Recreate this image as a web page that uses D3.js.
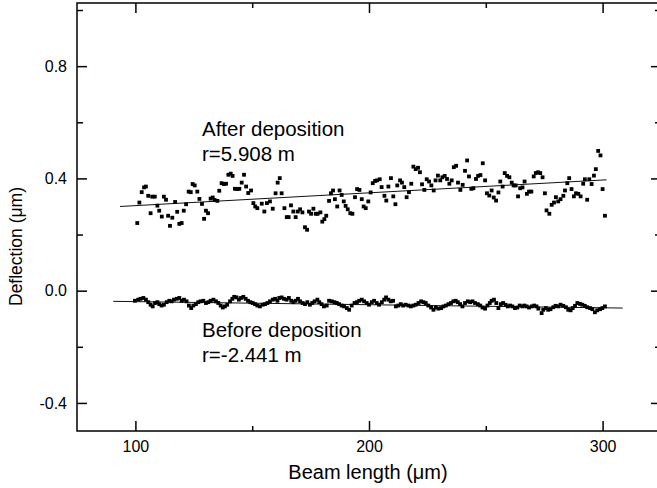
<!DOCTYPE html>
<html>
<head>
<meta charset="utf-8">
<script src="https://cdn.jsdelivr.net/npm/d3@7"></script>
<style>
  body { margin: 0; background: #fff; }
  svg { display: block; font-family: "Liberation Sans", Arial, Helvetica, sans-serif; }
</style>
</head>
<body>
<svg id="chart" width="657" height="488"></svg>
<script>
// beam deflection: [beam length (um), deflection (um)]
const afterDeposition = [
  [100.8,0.241],[101.7,0.314],[102.7,0.351],[103.7,0.368],[104.5,0.371],[105.5,0.338],[106.5,0.276],[107.2,0.335],
  [108.3,0.335],[109.4,0.303],[110.2,0.285],[111.3,0.264],[112.2,0.335],[113.1,0.324],[114.0,0.267],[114.8,0.231],
  [115.8,0.260],[117.0,0.316],[117.9,0.281],[118.8,0.238],[119.8,0.241],[120.7,0.285],[121.7,0.308],[122.8,0.353],
  [123.7,0.351],[124.5,0.380],[125.4,0.375],[126.5,0.353],[127.4,0.327],[128.5,0.309],[129.4,0.256],[130.2,0.285],
  [131.1,0.276],[132.2,0.328],[133.1,0.332],[133.9,0.323],[135.1,0.320],[135.9,0.356],[136.9,0.383],[137.9,0.380],
  [138.8,0.381],[139.8,0.413],[140.8,0.417],[141.6,0.409],[142.6,0.363],[143.6,0.362],[144.5,0.363],[145.5,0.385],
  [146.5,0.413],[147.4,0.371],[148.3,0.348],[149.5,0.357],[150.5,0.312],[151.3,0.300],[152.2,0.294],[154.1,0.310],
  [155.2,0.282],[156.3,0.312],[157.6,0.318],[158.8,0.292],[160.0,0.347],[160.9,0.385],[161.8,0.401],[162.6,0.347],
  [163.8,0.294],[164.8,0.262],[165.6,0.262],[166.6,0.304],[167.6,0.282],[168.6,0.262],[169.5,0.282],[170.5,0.290],
  [171.5,0.279],[172.6,0.226],[173.5,0.217],[174.3,0.282],[175.2,0.274],[176.2,0.292],[177.2,0.274],[178.0,0.274],
  [179.2,0.279],[180.0,0.246],[180.9,0.255],[181.7,0.267],[182.9,0.320],[183.7,0.347],[184.6,0.357],[185.4,0.326],
  [186.4,0.300],[187.4,0.357],[188.3,0.341],[189.2,0.318],[190.0,0.302],[190.9,0.290],[192.0,0.276],[192.9,0.274],
  [194.0,0.333],[194.9,0.362],[195.9,0.359],[196.9,0.326],[197.7,0.300],[198.6,0.294],[199.7,0.318],[200.7,0.350],
  [201.6,0.383],[202.6,0.391],[203.4,0.393],[204.6,0.397],[205.4,0.369],[206.6,0.338],[207.4,0.321],[208.3,0.371],
  [209.4,0.401],[210.4,0.336],[211.3,0.308],[212.1,0.375],[213.3,0.393],[214.1,0.385],[215.1,0.369],[216.1,0.333],
  [217.1,0.351],[218.1,0.381],[219.0,0.442],[220.0,0.433],[221.0,0.438],[221.8,0.422],[222.7,0.379],[223.7,0.359],
  [224.7,0.397],[225.7,0.389],[226.7,0.375],[227.7,0.357],[228.5,0.393],[229.5,0.410],[230.5,0.393],[231.4,0.404],
  [232.4,0.409],[233.4,0.398],[234.4,0.381],[235.4,0.393],[236.3,0.440],[237.3,0.445],[238.1,0.385],[239.1,0.359],
  [240.1,0.377],[241.1,0.427],[242.0,0.464],[242.8,0.407],[243.8,0.363],[244.7,0.365],[245.8,0.398],[246.7,0.409],
  [247.7,0.412],[248.7,0.454],[249.7,0.393],[250.5,0.347],[251.5,0.339],[252.5,0.357],[253.4,0.332],[254.4,0.321],
  [255.4,0.350],[256.2,0.389],[257.2,0.371],[258.1,0.419],[259.1,0.409],[260.1,0.404],[261.1,0.385],[261.9,0.375],
  [262.8,0.375],[263.8,0.336],[264.7,0.365],[265.7,0.368],[266.6,0.389],[267.6,0.345],[268.5,0.353],[269.5,0.353],
  [270.5,0.407],[271.4,0.419],[272.4,0.422],[273.3,0.419],[274.3,0.404],[275.3,0.347],[276.0,0.286],[277.2,0.274],
  [278.2,0.306],[279.2,0.314],[280.0,0.333],[281.0,0.318],[282.0,0.326],[283.2,0.338],[283.9,0.357],[284.9,0.383],
  [285.7,0.401],[286.7,0.362],[287.7,0.336],[288.6,0.347],[289.6,0.345],[290.6,0.336],[291.7,0.381],[292.4,0.397],
  [293.4,0.324],[294.3,0.397],[295.3,0.380],[296.3,0.410],[297.1,0.433],[298.1,0.498],[299.1,0.482],[300.0,0.362],
  [301.0,0.267]
];

const beforeDeposition = [
  [99.8,-0.036],[101.2,-0.032],[102.2,-0.029],[103.4,-0.026],[104.5,-0.032],[105.5,-0.041],[106.5,-0.050],[107.4,-0.056],
  [108.4,-0.044],[109.4,-0.041],[110.2,-0.048],[111.2,-0.053],[112.2,-0.050],[113.4,-0.041],[114.5,-0.036],[115.5,-0.038],
  [116.5,-0.032],[117.7,-0.029],[118.8,-0.026],[119.8,-0.036],[120.8,-0.032],[121.9,-0.038],[122.9,-0.053],[123.9,-0.062],
  [124.8,-0.053],[125.9,-0.048],[126.9,-0.041],[127.9,-0.038],[129.1,-0.036],[130.2,-0.044],[131.2,-0.041],[132.2,-0.036],
  [133.4,-0.032],[134.5,-0.038],[135.5,-0.044],[136.5,-0.053],[137.4,-0.060],[138.3,-0.056],[139.3,-0.050],[140.5,-0.038],
  [141.5,-0.029],[142.3,-0.022],[143.3,-0.024],[144.3,-0.032],[145.2,-0.026],[146.2,-0.022],[147.2,-0.029],[148.2,-0.036],
  [149.2,-0.041],[150.2,-0.044],[151.2,-0.048],[152.2,-0.053],[153.3,-0.056],[154.5,-0.050],[155.5,-0.048],[156.5,-0.044],
  [157.6,-0.038],[158.8,-0.032],[159.8,-0.029],[160.8,-0.036],[161.6,-0.026],[162.6,-0.024],[163.6,-0.029],[164.7,-0.032],
  [165.7,-0.026],[166.7,-0.036],[167.6,-0.041],[168.6,-0.036],[169.6,-0.029],[170.5,-0.038],[171.6,-0.044],[172.6,-0.048],
  [173.6,-0.041],[174.7,-0.050],[175.7,-0.044],[176.7,-0.038],[177.9,-0.032],[178.7,-0.041],[179.7,-0.048],[180.7,-0.056],
  [181.9,-0.053],[182.9,-0.036],[184.1,-0.038],[185.2,-0.041],[186.2,-0.044],[187.2,-0.048],[188.3,-0.053],[189.3,-0.056],
  [190.5,-0.062],[191.5,-0.068],[192.6,-0.053],[193.8,-0.044],[194.8,-0.041],[195.8,-0.036],[196.9,-0.032],[197.9,-0.038],
  [199.0,-0.044],[200.0,-0.050],[201.2,-0.041],[202.2,-0.036],[203.3,-0.044],[204.3,-0.050],[205.5,-0.041],[206.5,-0.032],
  [207.3,-0.024],[208.3,-0.032],[209.3,-0.038],[210.3,-0.036],[211.5,-0.056],[212.6,-0.053],[213.6,-0.048],[214.6,-0.053],
  [215.7,-0.050],[216.9,-0.053],[217.9,-0.056],[219.0,-0.053],[220.0,-0.050],[221.2,-0.044],[222.3,-0.038],[223.3,-0.041],
  [224.3,-0.044],[225.4,-0.053],[226.6,-0.060],[227.6,-0.068],[228.6,-0.060],[229.7,-0.064],[230.9,-0.062],[231.9,-0.056],
  [232.9,-0.053],[234.0,-0.048],[235.1,-0.044],[236.1,-0.038],[237.1,-0.036],[238.0,-0.041],[239.0,-0.048],[240.0,-0.056],
  [241.1,-0.044],[242.3,-0.038],[243.3,-0.041],[244.3,-0.038],[245.4,-0.044],[246.6,-0.048],[247.6,-0.053],[248.6,-0.060],
  [249.7,-0.064],[250.7,-0.053],[251.7,-0.044],[252.5,-0.036],[253.5,-0.032],[254.5,-0.044],[255.4,-0.062],[256.4,-0.048],
  [257.4,-0.044],[258.5,-0.050],[259.4,-0.056],[260.4,-0.053],[261.4,-0.056],[262.5,-0.062],[263.5,-0.060],[264.5,-0.053],
  [265.7,-0.056],[266.5,-0.053],[267.5,-0.056],[268.5,-0.060],[269.7,-0.056],[270.7,-0.053],[271.7,-0.056],[272.5,-0.064],
  [273.9,-0.080],[274.6,-0.068],[275.7,-0.062],[276.7,-0.068],[277.7,-0.066],[278.9,-0.059],[279.9,-0.054],[281.0,-0.056],
  [282.0,-0.050],[283.2,-0.054],[284.3,-0.059],[285.3,-0.068],[286.3,-0.070],[287.2,-0.062],[288.2,-0.054],[289.2,-0.044],
  [290.3,-0.047],[291.3,-0.050],[292.4,-0.054],[293.4,-0.059],[294.6,-0.062],[295.6,-0.066],[296.7,-0.077],[297.7,-0.070],
  [298.9,-0.066],[299.9,-0.062],[301.0,-0.056]
];

// linear fits drawn through each set
const afterFit = [[93.4, 0.300], [301.7, 0.395]];
const beforeFit = [[90.5, -0.038], [308.6, -0.062]];

const xMajor = [100, 200, 300];
const xMinor = [150, 250];
const xTickLabels = ["100", "200", "300"];
const yMajor = [0.8, 0.4, 0.0, -0.4];
const yMinor = [1.0, 0.6, 0.2, -0.2];
const yTickLabels = ["0.8", "0.4", "0.0", "-0.4"];

const afterLabel = ["After deposition", "r=5.908 m"];
const beforeLabel = ["Before deposition", "r=-2.441 m"];

const svg = d3.select("#chart");
const LEFT = 77, RIGHT = 661, TOP = 3, BOTTOM = 431;

const xScale = d3.scaleLinear().domain([75, 325]).range([LEFT, RIGHT]);
const yScale = d3.scaleLinear().domain([-0.5, 1.025]).range([BOTTOM, TOP]);

svg.append("rect").attr("width", 657).attr("height", 488).attr("fill", "#fff");

const styleAxis = (g, fontSize) => {
    g.select(".domain").remove();
    g.selectAll(".tick line").attr("stroke", "#000").attr("stroke-width", 1.5);
    g.selectAll(".tick text").attr("fill", "#000").style("font-size", fontSize + "px")
     .style("font-family", "\"Liberation Sans\", Arial, sans-serif");
};

// bottom
svg.append("g").attr("transform", "translate(0," + BOTTOM + ")")
   .call(d3.axisBottom(xScale).tickValues(xMajor).tickSize(-10).tickSizeOuter(0).tickPadding(10)
         .tickFormat((d, i) => xTickLabels[i]))
   .call(g => styleAxis(g, 16));
svg.append("g").attr("transform", "translate(0," + BOTTOM + ")")
   .call(d3.axisBottom(xScale).tickValues(xMinor).tickSize(-5).tickSizeOuter(0).tickFormat(""))
   .call(g => styleAxis(g, 16));
// top
svg.append("g").attr("transform", "translate(0," + TOP + ")")
   .call(d3.axisTop(xScale).tickValues(xMajor).tickSize(-10).tickSizeOuter(0).tickFormat(""))
   .call(g => styleAxis(g, 16));
svg.append("g").attr("transform", "translate(0," + TOP + ")")
   .call(d3.axisTop(xScale).tickValues(xMinor).tickSize(-5).tickSizeOuter(0).tickFormat(""))
   .call(g => styleAxis(g, 16));
// left
svg.append("g").attr("transform", "translate(" + LEFT + ",0)")
   .call(d3.axisLeft(yScale).tickValues(yMajor).tickSize(-10).tickSizeOuter(0).tickPadding(10)
         .tickFormat((d, i) => yTickLabels[i]))
   .call(g => styleAxis(g, 16));
svg.append("g").attr("transform", "translate(" + LEFT + ",0)")
   .call(d3.axisLeft(yScale).tickValues(yMinor).tickSize(-6).tickSizeOuter(0).tickFormat(""))
   .call(g => styleAxis(g, 16));
// right
svg.append("g").attr("transform", "translate(" + RIGHT + ",0)")
   .call(d3.axisRight(yScale).tickValues(yMajor).tickSize(-10).tickSizeOuter(0).tickFormat(""))
   .call(g => styleAxis(g, 16));
svg.append("g").attr("transform", "translate(" + RIGHT + ",0)")
   .call(d3.axisRight(yScale).tickValues(yMinor).tickSize(-6).tickSizeOuter(0).tickFormat(""))
   .call(g => styleAxis(g, 16));

// frame
svg.append("rect")
   .attr("x", LEFT).attr("y", TOP)
   .attr("width", RIGHT - LEFT).attr("height", BOTTOM - TOP)
   .attr("fill", "none").attr("stroke", "#000").attr("stroke-width", 1.5);

// fit lines
const line = d3.line().x(d => xScale(d[0])).y(d => yScale(d[1]));
[afterFit, beforeFit].forEach(fit => {
    svg.append("path").datum(fit)
       .attr("d", line)
       .attr("fill", "none").attr("stroke", "#111").attr("stroke-width", 1);
});

// points
const size = 3.8;
[afterDeposition, beforeDeposition].forEach(series => {
    svg.append("g").selectAll("rect")
       .data(series)
       .enter()
       .append("rect")
       .attr("x", d => xScale(d[0]) - size / 2)
       .attr("y", d => yScale(d[1]) - size / 2)
       .attr("width", size)
       .attr("height", size)
       .attr("fill", "#000");
});

// annotations
const annotate = (lines, x, y0) => {
    lines.forEach((t, i) => {
        svg.append("text")
           .attr("x", x).attr("y", y0 + i * 24.5)
           .style("font-size", "20.5px")
           .attr("fill", "#000")
           .text(t);
    });
};
annotate(afterLabel, 202, 136);
annotate(beforeLabel, 202, 337);

// axis titles
svg.append("text")
   .attr("x", 368).attr("y", 479)
   .attr("text-anchor", "middle")
   .style("font-size", "20px")
   .text("Beam length (\u03bcm)");

svg.append("text")
   .attr("transform", "translate(22,246.5) rotate(-90)")
   .attr("text-anchor", "middle")
   .style("font-size", "17.5px")
   .text("Deflection (\u03bcm)");
</script>
</body>
</html>
